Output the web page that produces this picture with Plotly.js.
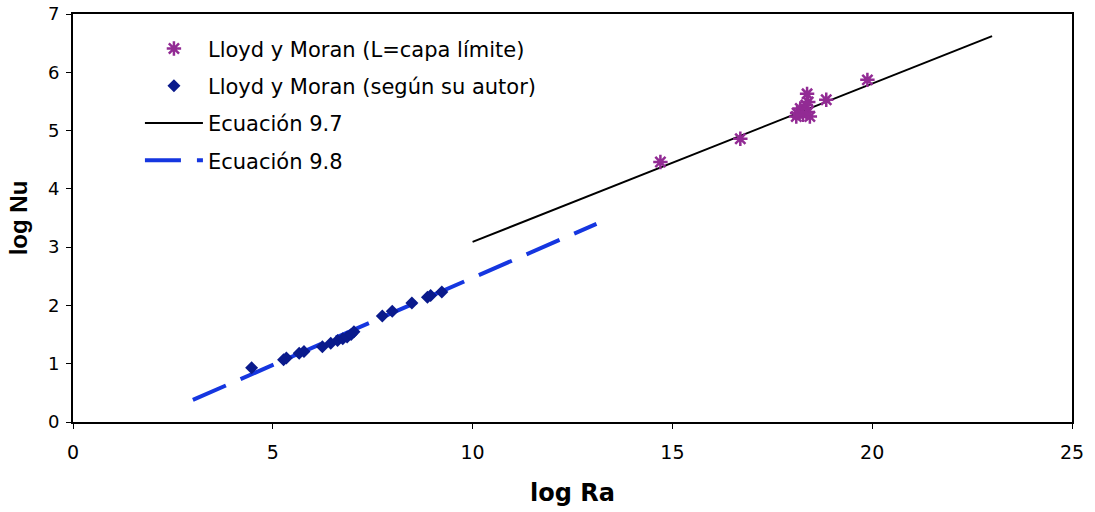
<!DOCTYPE html>
<html>
<head>
<meta charset="utf-8">
<script src="https://cdn.plot.ly/plotly-3.0.1.min.js"></script>
<style>html,body{margin:0;padding:0;background:#fff;}#chart{width:1095px;height:512px;}</style>
</head>
<body>
<div id="chart"></div>
<script>
// Lloyd y Moran (L = capa límite)
const capaX = [14.7, 16.7, 18.1, 18.12, 18.2, 18.27, 18.34, 18.39, 18.44, 18.4, 18.37, 18.85, 19.88];
const capaY = [4.46, 4.86, 5.24, 5.30, 5.38, 5.27, 5.44, 5.32, 5.24, 5.49, 5.63, 5.53, 5.87];
// Lloyd y Moran (según su autor)
const autorX = [4.47, 5.27, 5.34, 5.66, 5.78, 6.24, 6.45, 6.62, 6.75, 6.86, 6.96, 7.03, 7.74, 7.99, 8.48, 8.87, 8.95, 9.23];
const autorY = [0.93, 1.07, 1.10, 1.18, 1.21, 1.29, 1.35, 1.40, 1.43, 1.46, 1.50, 1.55, 1.82, 1.90, 2.04, 2.14, 2.17, 2.23];
// Ecuación 9.7
const eq97X = [10, 23];
const eq97Y = [3.09, 6.62];
// Ecuación 9.8
const eq98X = [3, 13.1];
const eq98Y = [0.38, 3.40];

const names = ['Lloyd y Moran (L=capa límite)', 'Lloyd y Moran (según su autor)', 'Ecuación 9.7', 'Ecuación 9.8'];

const F = 'DejaVu Sans, Liberation Sans, Arial, sans-serif';

const traces = [
  {x: eq97X, y: eq97Y, type: 'scatter', mode: 'lines', name: names[2], legendgroup: 'c', legendrank: 3,
   line: {color: '#000000', width: 2}},
  {x: eq98X, y: eq98Y, type: 'scatter', mode: 'lines', name: names[3], legendgroup: 'd', legendrank: 4,
   line: {color: '#1536E0', width: 4, dash: '36px,16px'}},
  {x: autorX, y: autorY, type: 'scatter', mode: 'markers', name: names[1], legendgroup: 'b', legendrank: 2,
   marker: {symbol: 'diamond', size: 10, color: '#0A1A8C', line: {width: 0}}},
  {x: capaX, y: capaY, type: 'scatter', mode: 'markers', name: names[0], legendgroup: 'a', legendrank: 1,
   marker: {symbol: 'asterisk-open', size: 12, color: '#922B94', line: {color: '#922B94', width: 2.5}}}
];

const layout = {
  width: 1095, height: 512,
  margin: {l: 73, r: 23, t: 14, b: 90},
  paper_bgcolor: '#ffffff', plot_bgcolor: '#ffffff',
  font: {family: F, color: '#000000', size: 18},
  showlegend: true,
  legend: {x: 0.067, y: 0.965, xanchor: 'left', yanchor: 'top', traceorder: 'grouped', tracegroupgap: 7,
           itemwidth: 58,
           font: {size: 21, family: F}, bgcolor: 'rgba(0,0,0,0)'},
  xaxis: {range: [0, 25], dtick: 5, tick0: 0, showgrid: false, zeroline: false,
          showline: true, linecolor: '#000', linewidth: 2, mirror: true,
          ticks: 'outside', ticklen: 5, tickcolor: '#000', tickwidth: 1,
          ticklabelstandoff: 7,
          tickfont: {size: 19, family: F},
          title: {text: '<b>log Ra</b>', font: {size: 24, family: F}, standoff: 22}},
  yaxis: {range: [0, 7], dtick: 1, tick0: 0, showgrid: false, zeroline: false,
          showline: true, linecolor: '#000', linewidth: 2, mirror: true,
          ticks: 'outside', ticklen: 5, tickcolor: '#000', tickwidth: 1,
          ticklabelstandoff: 3,
          tickfont: {size: 18, family: F},
          title: {text: '<b>log Nu</b>', font: {size: 24, family: 'Liberation Sans, Arial, sans-serif'}, standoff: 14}}
};

Plotly.newPlot('chart', traces, layout, {displayModeBar: false, staticPlot: true});
</script>
</body>
</html>
